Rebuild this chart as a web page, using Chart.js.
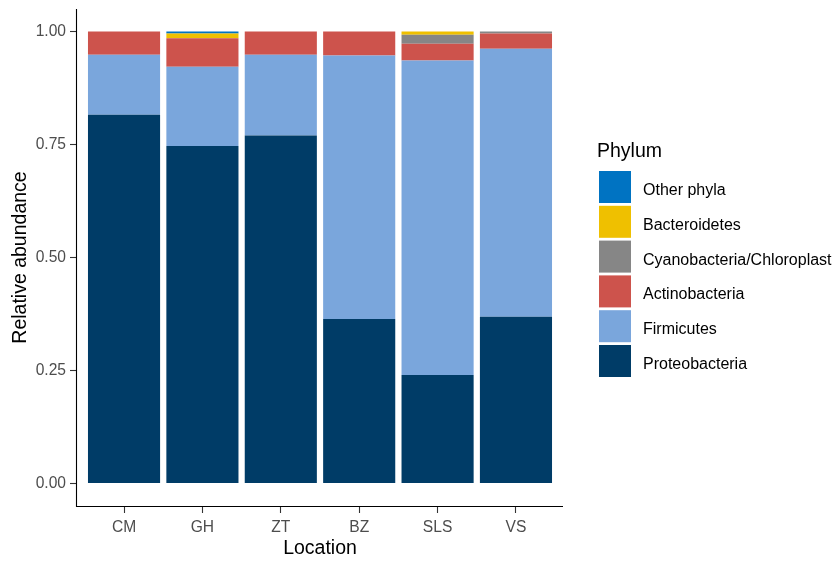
<!DOCTYPE html>
<html><head><meta charset="utf-8">
<script src="https://cdn.jsdelivr.net/npm/chart.js@4/dist/chart.umd.min.js"></script>
<style>html,body{margin:0;padding:0;background:#fff;}</style>
</head><body>
<canvas id="c" width="835" height="561" style="display:block;width:835px;height:561px"></canvas>
<script>
const locations = ['CM', 'GH', 'ZT', 'BZ', 'SLS', 'VS'];
const phyla = ['Proteobacteria', 'Firmicutes', 'Actinobacteria', 'Cyanobacteria/Chloroplast', 'Bacteroidetes', 'Other phyla'];
const phylaColors = ['#003C67', '#7AA6DC', '#CD534C', '#868686', '#EFC000', '#0073C2'];
const proteobacteria = [0.816, 0.747, 0.770, 0.364, 0.240, 0.369];
const firmicutes     = [0.133, 0.175, 0.179, 0.583, 0.696, 0.593];
const actinobacteria = [0.051, 0.063, 0.051, 0.053, 0.037, 0.034];
const cyanobacteria  = [0, 0, 0, 0, 0.020, 0.004];
const bacteroidetes  = [0, 0.011, 0, 0, 0.007, 0];
const otherPhyla     = [0, 0.004, 0, 0, 0, 0];
const yTicks = [0, 0.25, 0.5, 0.75, 1.0];

const seriesValues = [proteobacteria, firmicutes, actinobacteria, cyanobacteria, bacteroidetes, otherPhyla];
const FONT = '"Liberation Sans", Arial, sans-serif';

const datasets = phyla.map((name, k) => ({
  label: name,
  data: seriesValues[k].map((v, i) => ({ x: i + 1, y: v })),
  backgroundColor: phylaColors[k],
  borderWidth: 0,
  barPercentage: 0.92,
  categoryPercentage: 1.0
}));

const legendPlugin = {
  id: 'phylumLegend',
  afterDraw(chart) {
    const ctx = chart.ctx;
    const a = chart.chartArea;
    ctx.save();
    // axis lines along the chart area
    ctx.strokeStyle = '#000';
    ctx.lineWidth = 1.1;
    ctx.beginPath();
    ctx.moveTo(Math.round(a.left) - 0.5, a.top);
    ctx.lineTo(Math.round(a.left) - 0.5, Math.round(a.bottom) + 0.5);
    ctx.lineTo(a.right, Math.round(a.bottom) + 0.5);
    ctx.stroke();
    // legend
    ctx.fillStyle = '#000';
    ctx.font = '19.5px ' + FONT;
    ctx.textBaseline = 'alphabetic';
    ctx.textAlign = 'left';
    ctx.fillText('Phylum', 597, 157);
    const items = chart.data.datasets.slice().reverse();
    items.forEach((d, i) => {
      const y = 171 + i * 34.8;
      ctx.fillStyle = d.backgroundColor;
      ctx.fillRect(599, y, 32, 32);
      ctx.fillStyle = '#000';
      ctx.font = '16px ' + FONT;
      ctx.fillText(d.label, 643, y + 24);
    });
    ctx.restore();
  }
};

new Chart(document.getElementById('c'), {
  type: 'bar',
  data: { datasets },
  plugins: [legendPlugin],
  options: {
    responsive: false,
    devicePixelRatio: 1,
    animation: false,
    layout: { padding: { top: 9, right: 272, left: 0, bottom: 0 } },
    plugins: { legend: { display: false }, tooltip: { enabled: false } },
    scales: {
      x: {
        type: 'linear',
        stacked: true,
        offset: false,
        min: 0.4, max: 6.6,
        afterBuildTicks: s => { s.ticks = locations.map((_, i) => ({ value: i + 1 })); },
        afterFit: s => { s.height = 55; s.paddingLeft = 0; s.paddingRight = 0; },
        ticks: {
          callback: v => locations[Math.round(v) - 1] || '',
          color: '#4D4D4D',
          font: { family: FONT, size: 15.6 },
          padding: 5,
          maxRotation: 0, autoSkip: false
        },
        grid: { display: true, offset: false, drawOnChartArea: false, drawTicks: true, tickLength: 7, tickColor: '#333333', color: 'rgba(0,0,0,0)', tickWidth: 1.1 },
        border: { display: false },
        title: { display: true, text: 'Location', color: '#000', font: { family: FONT, size: 19.5 }, padding: { top: 0, bottom: 1 } }
      },
      y: {
        type: 'linear',
        stacked: true,
        min: -0.05, max: 1.05,
        afterBuildTicks: s => { s.ticks = yTicks.map(v => ({ value: v })); },
        afterFit: s => { s.width = 77; s.paddingTop = 0; s.paddingBottom = 0; },
        ticks: {
          callback: v => Number(v).toFixed(2),
          color: '#4D4D4D',
          font: { family: FONT, size: 15.6 },
          padding: 4
        },
        grid: { display: true, drawOnChartArea: false, drawTicks: true, tickLength: 7, tickColor: '#333333', color: 'rgba(0,0,0,0)', tickWidth: 1.1 },
        border: { display: false },
        title: { display: true, text: 'Relative abundance', color: '#000', font: { family: FONT, size: 19.5 }, padding: { top: 8.5, bottom: 0 } }
      }
    }
  }
});
</script>
</body></html>
